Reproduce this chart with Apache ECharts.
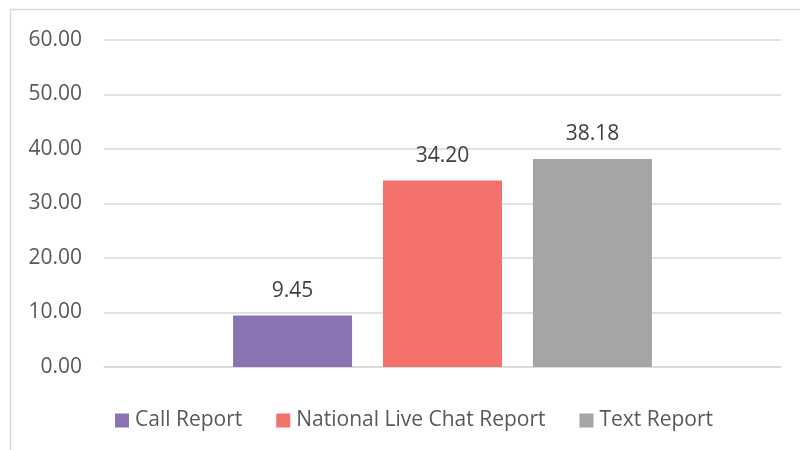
<!DOCTYPE html>
<html>
<head>
<meta charset="utf-8">
<script src="https://cdn.jsdelivr.net/npm/echarts@6/dist/echarts.min.js"></script>
<style>
  html, body { margin: 0; padding: 0; background: #ffffff; }
  #chart { width: 800px; height: 450px; }
</style>
</head>
<body>
<div id="chart"></div>
<script>
// Report channel averages
const seriesNames = ['Call Report', 'National Live Chat Report', 'Text Report'];
const seriesValues = [9.45, 34.20, 38.18];
const seriesColors = ['#8A72B3', '#F2716B', '#A5A5A5'];
const categories = [''];
const yTicks = { min: 0, max: 60, interval: 10 };

const chart = echarts.init(document.getElementById('chart'));

const series = seriesNames.map((name, i) => ({
  name: name,
  type: 'bar',
  data: [seriesValues[i]],
  barWidth: 119,
  barGap: '26%',
  itemStyle: { color: seriesColors[i] },
  label: {
    show: true,
    position: 'top',
    distance: 14,
    color: '#404040',
    fontFamily: 'Open Sans',
    fontSize: 21,
    formatter: p => p.value.toFixed(2)
  }
}));

chart.setOption({
  animation: false,
  textStyle: { fontFamily: 'Open Sans' },
  graphic: [{
    type: 'rect',
    shape: { x: 10.5, y: 9.5, width: 820, height: 470 },
    style: { fill: 'none', stroke: '#D9D9D9', lineWidth: 1.5 },
    silent: true
  }],
  grid: { left: 104, right: 19, top: 40, bottom: 83 },
  legend: {
    top: 405,
    left: 110,
    icon: 'rect',
    itemWidth: 14,
    itemHeight: 14,
    itemGap: 34,
    textStyle: { color: '#595959', fontSize: 21, fontFamily: 'Open Sans', padding: [0, 0, 0, 1] },
    data: seriesNames
  },
  xAxis: {
    type: 'category',
    data: categories,
    axisLine: { lineStyle: { color: '#D9D9D9', width: 1.5 } },
    axisTick: { show: false },
    axisLabel: { show: false }
  },
  yAxis: {
    type: 'value',
    min: yTicks.min,
    max: yTicks.max,
    interval: yTicks.interval,
    axisLine: { show: false },
    axisTick: { show: false },
    axisLabel: {
      color: '#595959',
      fontSize: 21,
      margin: 22,
      fontFamily: 'Open Sans',
      formatter: v => v.toFixed(2)
    },
    splitLine: { lineStyle: { color: '#D9D9D9', width: 1.5 } }
  },
  series: series
});
</script>
</body>
</html>
